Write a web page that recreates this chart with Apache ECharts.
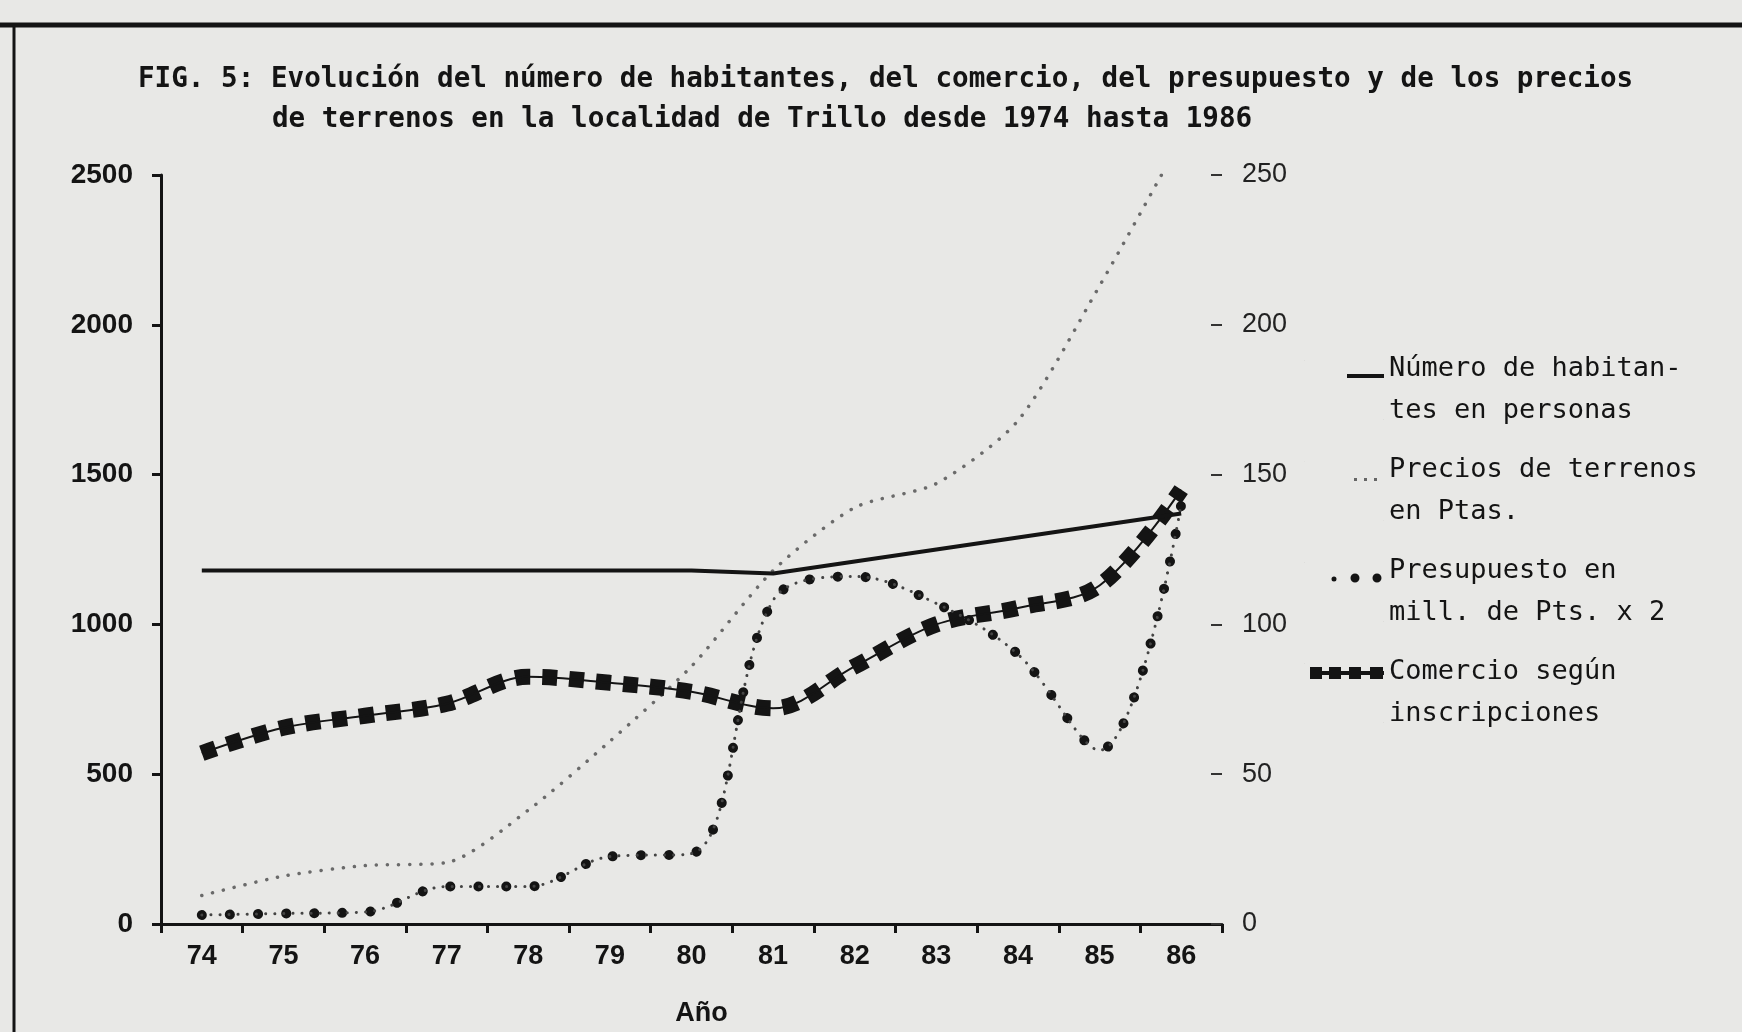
<!DOCTYPE html>
<html>
	<head>
		<meta charset="UTF-8">
		<title>Trillo 1974-1986</title>
		<style>
			html, body { margin: 0; padding: 0; background: #e8e8e6; }
			#chart { width: 1742px; height: 1032px; }
		</style>
	</head>
	<body>
		<div id="chart"></div>
		<script src="https://cdn.jsdelivr.net/npm/echarts@6/dist/echarts.min.js"></script>
		<script>
			// años (eje x)
			var anios = ['74', '75', '76', '77', '78', '79', '80', '81', '82', '83', '84', '85', '86'];
			// número de habitantes (eje izquierdo)
			var habitantes = [1180, 1180, 1180, 1180, 1180, 1180, 1180, 1170, 1210, 1250, 1290, 1330, 1370];
			// precios de terrenos en Ptas. (eje derecho)
			var precios = [9.5, 16, 19.5, 20.5, 38, 61, 86, 118, 139, 147, 168, 213, 262];
			// presupuesto en mill. de Pts. x 2 (eje derecho)
			var presupuesto = [3, 3.5, 4, 12.5, 12.5, 22.5, 23.5, 108, 116, 107, 90, 58, 140];
			// comercio según inscripciones (eje derecho)
			var comercio = [57, 65.5, 69.5, 73.5, 82.5, 80.5, 77.5, 72, 86, 100, 105.5, 113, 145];

			var nombres = [
				'Número de habitan-\ntes en personas',
				'Precios de terrenos\nen Ptas.',
				'Presupuesto en\nmill. de Pts. x 2',
				'Comercio según\ninscripciones'
			];

			var tinta = '#141414';
			var fuenteEje = 'Liberation Sans';
			var fuenteMono = 'DejaVu Sans Mono';

			// iconos de la leyenda, caja de 80x60 (las esquinas fijan el tamaño)
			var esquinas = 'M0,0h0.2v0.2h-0.2zM79.8,59.8h0.2v0.2h-0.2z';
			function punto(cx, cy, r) {
				return 'M' + (cx - r) + ',' + cy + 'a' + r + ',' + r + ' 0 1,0 ' + (2 * r) + ',0' +
					'a' + r + ',' + r + ' 0 1,0 ' + (-2 * r) + ',0z';
			}
			var iconos = [
				'path://' + esquinas + 'M43,14h37v4h-37z',
				'path://' + esquinas + 'M50,17h3v3h-3zM60,17h3v3h-3zM70,17h3v3h-3z',
				'path://' + esquinas + punto(30, 17, 2.5) + punto(51, 16, 4.5) + punto(73, 16, 4.5),
				'path://' + esquinas + 'M6,8h74v4h-74zM6,4h12v12h-12zM25,4h12v12h-12zM45,4h12v12h-12zM66,4h13v12h-13z'
			];

			var chart = echarts.init(document.getElementById('chart'));

			var option = {
				backgroundColor: '#e8e8e6',
				animation: false,
				title: [{
					text: 'FIG. 5: Evolución del número de habitantes, del comercio, del presupuesto y de los precios',
					left: 133,
					top: 61,
					textStyle: { fontFamily: fuenteMono, fontSize: 27.6, fontWeight: 'bold', color: tinta }
				}, {
					text: 'de terrenos en la localidad de Trillo desde 1974 hasta 1986',
					left: 267,
					top: 101,
					textStyle: { fontFamily: fuenteMono, fontSize: 27.6, fontWeight: 'bold', color: tinta }
				}],
				// marco de la figura
				graphic: [{
					type: 'line',
					shape: { x1: 0, y1: 25, x2: 1742, y2: 25 },
					style: { stroke: tinta, lineWidth: 5 }
				}, {
					type: 'line',
					shape: { x1: 14, y1: 23, x2: 14, y2: 1032 },
					style: { stroke: tinta, lineWidth: 3 }
				}],
				legend: {
					orient: 'vertical',
					left: 1299,
					top: 343,
					itemGap: 17,
					itemWidth: 80,
					itemHeight: 60,
					align: 'left',
					data: nombres.map(function(n, i) {
						return { name: n, icon: iconos[i] };
					}),
					textStyle: { fontFamily: fuenteMono, fontSize: 27, lineHeight: 42, color: tinta }
				},
				grid: { left: 161, right: 520, top: 175, bottom: 108 },
				xAxis: {
					type: 'category',
					data: anios,
					name: 'Año',
					nameLocation: 'middle',
					nameGap: 76,
					nameTextStyle: { fontFamily: fuenteEje, fontSize: 27, fontWeight: 'bold', color: tinta, padding: [0, 0, 0, 20] },
					axisLine: { lineStyle: { color: tinta, width: 3 } },
					axisTick: { show: true, length: 9, lineStyle: { color: tinta, width: 3 } },
					axisLabel: { fontFamily: fuenteEje, fontSize: 27, fontWeight: 'bold', color: tinta, margin: 19 }
				},
				yAxis: [{
					type: 'value',
					min: 0,
					max: 2500,
					interval: 500,
					splitLine: { show: false },
					axisLine: { show: true, lineStyle: { color: tinta, width: 3 } },
					axisTick: { show: true, length: 9, lineStyle: { color: tinta, width: 3 } },
					axisLabel: {
						fontFamily: fuenteEje, fontSize: 28, fontWeight: 'bold', color: tinta, margin: 28,
						formatter: function(v) { return String(v); }
					}
				}, {
					type: 'value',
					min: 0,
					max: 250,
					interval: 50,
					position: 'right',
					splitLine: { show: false },
					axisLine: { show: false },
					axisTick: { show: true, inside: true, length: 11, lineStyle: { color: '#333', width: 2 } },
					axisLabel: { fontFamily: fuenteEje, fontSize: 27, color: '#222', margin: 20 }
				}],
				series: [{
					name: nombres[3],
					type: 'line',
					yAxisIndex: 1,
					data: comercio,
					smooth: 0.35,
					symbol: 'none',
					z: 3,
					itemStyle: { color: tinta },
					lineStyle: { color: tinta, width: 16, type: [15, 12], cap: 'butt' }
				}, {
					name: nombres[3],
					type: 'line',
					yAxisIndex: 1,
					data: comercio,
					smooth: 0.35,
					symbol: 'none',
					z: 3,
					itemStyle: { color: tinta },
					lineStyle: { color: tinta, width: 2 }
				}, {
					name: nombres[0],
					type: 'line',
					yAxisIndex: 0,
					data: habitantes,
					symbol: 'none',
					z: 4,
					itemStyle: { color: tinta },
					lineStyle: { color: tinta, width: 4 }
				}, {
					name: nombres[1],
					type: 'line',
					yAxisIndex: 1,
					data: precios,
					smooth: 0.25,
					symbol: 'none',
					z: 2,
					itemStyle: { color: '#666' },
					lineStyle: { color: '#6a6a6a', width: 3.5, type: [0.1, 11], cap: 'round' }
				}, {
					name: nombres[2],
					type: 'line',
					yAxisIndex: 1,
					data: presupuesto,
					smooth: 0.35,
					symbol: 'none',
					z: 3,
					itemStyle: { color: tinta },
					lineStyle: { color: tinta, width: 10, type: [0.1, 28], cap: 'round' }
				}, {
					name: nombres[2],
					type: 'line',
					yAxisIndex: 1,
					data: presupuesto,
					smooth: 0.35,
					symbol: 'none',
					z: 3,
					itemStyle: { color: tinta },
					lineStyle: { color: '#444', width: 3, type: [0.1, 9], cap: 'round' }
				}]
			};

			chart.setOption(option);
			window.addEventListener('resize', function() {
				chart.resize();
			});
		</script>
	</body>
</html>
